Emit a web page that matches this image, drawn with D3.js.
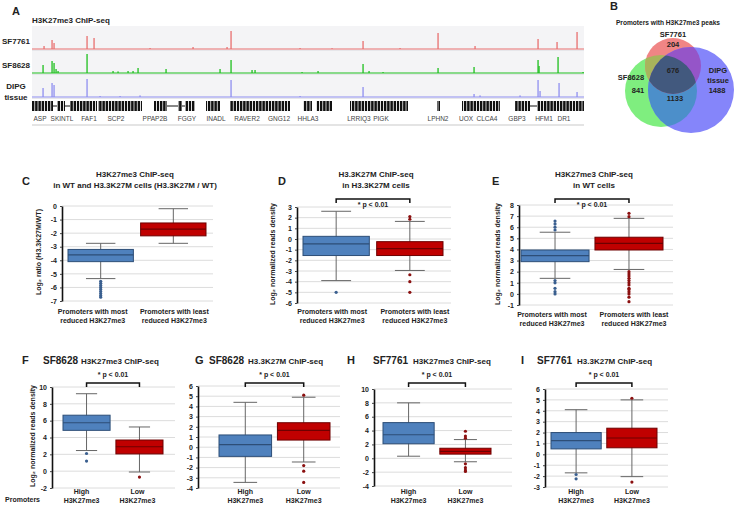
<!DOCTYPE html>
<html><head><meta charset="utf-8">
<script src="https://cdn.jsdelivr.net/npm/d3@7"></script>
<style>
body{margin:0;background:#fff}
svg{display:block}
text{font-family:"Liberation Sans",Arial,sans-serif;font-weight:bold;fill:#222}
</style>
</head><body>
<svg id="c" width="734" height="508"></svg>
<script>
// ---------------- DATA ----------------
// Panel A: genome browser tracks (position in window bins, signal 0-100)
const trackNames = ["SF7761", "SF8628", "DIPG tissue"];
const peaksSF7761 = [[12,15],[20,45],[22,30],[55,65],[62,55],[118,5],[161,10],[195,10],[199,90],[268,5],[300,4],[331,40],[368,5],[406,80],[443,15],[506,50],[525,35],[545,85]];
const peaksSF8628 = [[11,40],[20,60],[22,50],[24,20],[26,10],[55,95],[81,10],[86,8],[96,10],[101,10],[106,25],[134,20],[188,20],[199,65],[220,15],[223,15],[270,5],[286,10],[331,45],[337,10],[351,5],[406,25],[442,30],[506,65],[507,35],[526,80],[551,5]];
const peaksDIPG = [[11,45],[20,70],[22,60],[55,90],[68,5],[88,5],[108,8],[199,85],[268,5],[331,50],[442,15],[448,8],[488,8],[506,85],[508,30],[527,70],[545,25]];
const geneBlocks = [[0,21],[25,33],[38,48],[48,65],[66,110],[122,135],[146,150],[153,163],[174,188],[198,258],[271,280],[284,300],[318,376],[405,408],[430,468],[483,498],[505,552]];
const geneIntrons = [[21,25],[33,38],[135,146],[150,153],[498,505]];
const geneNames = ["ASP","SKINTL","FAF1","SCP2","PPAP2B","FGGY","INADL","RAVER2","GNG12","HHLA3","LRRIQ3","PIGK","LPHN2","UOX","CLCA4","GBP3","HFM1","DR1"];
const genePos = [8,30,57,84,123,155,184,215,247,276,327,349,406,434,455,485,512,532];

// Panel B: Venn counts
const vennSets = ["SF7761","SF8628","DIPG tissue"];
const vennCounts = {onlySF7761:204, onlySF8628:841, onlyDIPG:1488, all:676, SF8628_DIPG:1133};

// Box plots: [whiskerLow, q1, median, q3, whiskerHigh]
const catsMostLeast = ["Promoters with most|reduced H3K27me3", "Promoters with least|reduced H3K27me3"];
const catsHighLow = ["High|H3K27me3", "Low|H3K27me3"];

const C_stats = [[-5.35,-4.1,-3.6,-3.2,-2.75],[-2.75,-2.2,-1.7,-1.25,-0.2]];
const C_out = [[-5.55,-5.7,-5.85,-6.0,-6.15,-6.3,-6.45,-6.6,-6.72],[]];
const D_stats = [[-3.9,-1.55,-0.45,0.25,2.6],[-2.95,-1.55,-0.9,-0.25,1.65]];
const D_out = [[-5.0],[2.1,1.85,-3.35,-4.0,-5.0]];
const E_stats = [[1.4,2.9,3.45,3.95,5.55],[2.2,3.95,4.55,5.1,6.8]];
const E_out = [[5.75,6.0,6.3,6.55,1.2,1.0,0.5,0.2,0.0],[7.25,6.95,2.0,1.8,1.6,1.4,1.2,1.0,0.8,0.5,0.4,0.2,0.0,-0.3,-0.7]];
const F_stats = [[2.45,4.85,5.75,6.65,9.2],[-0.1,2.05,2.9,3.7,5.25]];
const F_out = [[2.1,1.2],[-0.7]];
const G_stats = [[-3.45,-0.9,0.25,1.2,4.4],[-1.45,0.7,1.65,2.4,4.9]];
const G_out = [[],[5.1,-1.8,-2.35,-3.45]];
const H_stats = [[0.3,2.1,3.4,5.15,8.0],[-0.5,0.6,1.0,1.45,2.7]];
const H_out = [[],[3.9,3.2,2.9,-0.8,-1.35,-1.7,-1.9]];
const I_stats = [[-1.7,0.5,1.25,2.0,4.1],[-2.05,0.6,1.5,2.4,5.0]];
const I_out = [[-1.85,-2.25],[5.15,-2.55]];

const C_ticks = [0,-1,-2,-3,-4,-5,-6,-7];
const D_ticks = [3,2,1,0,-1,-2,-3,-4,-5,-6];
const E_ticks = [8,7,6,5,4,3,2,1,0,-1];
const F_ticks = [10,8,6,4,2,0,-2];
const G_ticks = [6,5,4,3,2,1,0,-1,-2,-3,-4];
const H_ticks = [10,8,6,4,2,0,-2,-4];
const I_ticks = [6,5,4,3,2,1,0,-1,-2,-3];

// ---------------- DRAW ----------------
const svg = d3.select("#c");
function txt(x,y,s,size,anchor,extra){
  const t = svg.append("text").attr("x",x).attr("y",y).attr("font-size",size).attr("text-anchor",anchor||"start").text(s);
  if(extra) extra(t);
  return t;
}

// ---- Panel A ----
txt(12,15,"A",11);
txt(32,23,"H3K27me3 ChIP-seq",8);
const xA = d3.scaleLinear().domain([0,552]).range([32,584]);
const trackBase = [49,73,97];
const trackCol = ["#e86f6f","#1fbf1f","#8f8ff0"];
const trackPeaks = [peaksSF7761, peaksSF8628, peaksDIPG];
const yT = d3.scaleLinear().domain([0,100]).range([0,20]);
svg.append("rect").attr("x",xA(0)).attr("y",26).attr("width",xA(552)-xA(0)).attr("height",73).attr("fill","#f4f4f6");
trackNames.forEach((n,i)=>{
  const b = trackBase[i];
  svg.append("line").attr("x1",xA(0)).attr("x2",xA(552)).attr("y1",b+1.5).attr("y2",b+1.5).attr("stroke","#e6e6ea").attr("stroke-width",1);
  svg.append("line").attr("x1",xA(0)).attr("x2",xA(552)).attr("y1",b).attr("y2",b).attr("stroke",trackCol[i]).attr("stroke-width",1);
  svg.selectAll(null).data(trackPeaks[i]).enter().append("rect")
    .attr("x",d=>xA(d[0])-0.6).attr("width",1.3)
    .attr("y",d=>b-yT(d[1])).attr("height",d=>yT(d[1]))
    .attr("fill",trackCol[i]);
});
txt(2,44,"SF7761",8);
txt(2,68,"SF8628",8);
txt(16,89,"DIPG",8,"middle");
txt(16,100,"tissue",8,"middle");
// gene track
const defs = svg.append("defs");
const pat = defs.append("pattern").attr("id","exon").attr("patternUnits","userSpaceOnUse").attr("width",3.2).attr("height",10);
pat.append("rect").attr("width",2.4).attr("height",10).attr("fill","#111");
svg.selectAll(null).data(geneIntrons).enter().append("line")
  .attr("x1",d=>xA(d[0])).attr("x2",d=>xA(d[1])).attr("y1",106).attr("y2",106).attr("stroke","#111").attr("stroke-width",1);
svg.selectAll(null).data(geneBlocks).enter().append("rect")
  .attr("x",d=>xA(d[0])).attr("width",d=>xA(d[1])-xA(d[0])).attr("y",101).attr("height",10).attr("fill","url(#exon)");
svg.selectAll(null).data(geneNames).enter().append("text")
  .attr("x",(d,i)=>xA(genePos[i])).attr("y",121).attr("font-size",6.5).attr("text-anchor","middle")
  .style("font-weight","normal").style("fill","#444").text(d=>d);
svg.append("line").attr("x1",xA(0)).attr("x2",xA(552)).attr("y1",125).attr("y2",125).attr("stroke","#e4e4e4").attr("stroke-width",2);

// ---- Panel B: Venn ----
txt(610,10,"B",11);
txt(668,25,"Promoters with H3K27me3 peaks",6.6,"middle");
const circ = [{id:"r",cx:673,cy:66,r:28},{id:"g",cx:661,cy:91,r:36},{id:"b",cx:691,cy:90,r:43}];
circ.forEach(c=>{
  defs.append("clipPath").attr("id","clip_"+c.id).append("circle").attr("cx",c.cx).attr("cy",c.cy).attr("r",c.r);
});
const cmap = {r:"#f08585", g:"#7fee7f", b:"#8585fa"};
function circle(c,fill,parent){ return (parent||svg).append("circle").attr("cx",c.cx).attr("cy",c.cy).attr("r",c.r).attr("fill",fill); }
circle(circ[1],cmap.g); circle(circ[0],cmap.r); circle(circ[2],cmap.b);
circle(circ[1],"#4c8fca").attr("clip-path","url(#clip_b)");
circle(circ[0],"#a8b45c").attr("clip-path","url(#clip_g)");
circle(circ[0],"#9555c8").attr("clip-path","url(#clip_b)");
circle(circ[0],"#42597e",svg.append("g").attr("clip-path","url(#clip_b)")).attr("clip-path","url(#clip_g)");
txt(673,37,vennSets[0],7.5,"middle");
txt(673,47,vennCounts.onlySF7761,7.5,"middle");
txt(673,73,vennCounts.all,7.5,"middle");
txt(631,80,vennSets[1],7.5,"middle");
txt(638,93,vennCounts.onlySF8628,7.5,"middle");
txt(675,101,vennCounts.SF8628_DIPG,7.5,"middle");
txt(718,73,"DIPG",7.5,"middle");
txt(718,83,"tissue",7.5,"middle");
txt(717,93,vennCounts.onlyDIPG,7.5,"middle");

// ---- Box plots ----
const boxFill = ["#4f81bd","#c00000"];
const boxStroke = ["#2d4e77","#6e0000"];
const dotFill = ["#3a5f8f","#8b1010"];
function boxPanel(cfg, stats, outl, cats, ticks){
  const g = svg.append("g");
  const y = d3.scaleLinear().domain(cfg.domain).range(cfg.yRange);
  const x = d3.scaleBand().domain(cats).range(cfg.band).paddingInner(cfg.pad).paddingOuter(0);
  g.selectAll(".grid").data(ticks).enter().append("line")
    .attr("x1",cfg.axisX).attr("x2",cfg.gridEnd).attr("y1",d=>y(d)).attr("y2",d=>y(d))
    .attr("stroke","#dcdcdc").attr("stroke-width",1);
  const ax = g.append("g").attr("transform",`translate(${cfg.axisX},0)`)
    .call(d3.axisLeft(y).tickValues(ticks).tickSize(2).tickSizeOuter(0).tickFormat(d=>String(d)));
  ax.select(".domain").attr("stroke","#111").attr("stroke-width",1.6);
  ax.selectAll(".tick line").attr("stroke","#444");
  ax.selectAll("text").attr("font-size",7).attr("font-family",null).attr("x",-5).style("fill","#222");
  ax.attr("font-family",null);
  const bw = x.bandwidth();
  stats.forEach((s,i)=>{
    const cx = x(cats[i]) + bw/2;
    const capW = bw*0.45;
    g.append("line").attr("x1",cx).attr("x2",cx).attr("y1",y(s[0])).attr("y2",y(s[4])).attr("stroke","#666").attr("stroke-width",1);
    [s[0],s[4]].forEach(v=>g.append("line").attr("x1",cx-capW/2).attr("x2",cx+capW/2).attr("y1",y(v)).attr("y2",y(v)).attr("stroke","#666").attr("stroke-width",1));
    g.append("rect").attr("x",x(cats[i])).attr("width",bw).attr("y",y(s[3])).attr("height",y(s[1])-y(s[3]))
      .attr("fill",boxFill[i]).attr("stroke",boxStroke[i]).attr("stroke-width",1);
    g.append("line").attr("x1",x(cats[i])).attr("x2",x(cats[i])+bw).attr("y1",y(s[2])).attr("y2",y(s[2])).attr("stroke",boxStroke[i]).attr("stroke-width",1.2);
    g.selectAll(null).data(outl[i]).enter().append("circle").attr("cx",cx).attr("cy",d=>y(d)).attr("r",1.6).attr("fill",dotFill[i]);
    const lines = cats[i].split("|");
    lines.forEach((l,k)=>txt(cx + (cfg.labShift?cfg.labShift[i]:0), cfg.labY + k*9, l, 7, "middle"));
  });
  if(cfg.bracketY!=null){
    const c0 = x(cats[0])+bw/2, c1 = x(cats[1])+bw/2, by = cfg.bracketY;
    g.append("path").attr("d",`M${c0},${by+4}V${by}H${c1}V${by+4}`).attr("fill","none").attr("stroke","#111").attr("stroke-width",1.5);
    txt((c0+c1)/2, cfg.pY, "* p < 0.01", 7, "middle");
  }
  return {x,y};
}

// C
txt(22,185,"C",11);
txt(135,177,"H3K27me3 ChIP-seq",8,"middle");
txt(135,188,"in WT and H3.3K27M cells (H3.3K27M / WT)",8,"middle");
boxPanel({domain:[-7,0],yRange:[301,206],axisX:62,gridEnd:213,band:[68,206],pad:0.1,labY:314,labShift:[-8,1]}, C_stats, C_out, catsMostLeast, C_ticks);
txt(0,0,"Log₂ ratio (H3.3K27M/WT)",7,"middle",t=>t.attr("transform","translate(41,252) rotate(-90)"));

// D
txt(278,185,"D",11);
txt(376,177,"H3.3K27M ChIP-seq",8,"middle");
txt(376,188,"in H3.3K27M cells",8,"middle");
boxPanel({domain:[-6,3],yRange:[303,207],axisX:297,gridEnd:451,band:[303,443],pad:0.1,labY:314,bracketY:199,pY:207,labShift:[-4,5]}, D_stats, D_out, catsMostLeast, D_ticks);
txt(0,0,"Log₂ normalized reads density",7,"middle",t=>t.attr("transform","translate(275,254) rotate(-90)"));

// E
txt(492,185,"E",11);
txt(594,177,"H3K27me3 ChIP-seq",8,"middle");
txt(594,188,"in WT cells",8,"middle");
boxPanel({domain:[-1,8],yRange:[305,205],axisX:519,gridEnd:673,band:[521,663],pad:0.08,labY:317,bracketY:199,pY:207,labShift:[-3,5]}, E_stats, E_out, catsMostLeast, E_ticks);
txt(0,0,"Log₂ normalized reads density",7,"middle",t=>t.attr("transform","translate(500,254) rotate(-90)"));

// Row 3 headers
function header(x,letter,xs,cell,xt,title){
  txt(x,364,letter,11);
  txt(xs,364,cell,10);
  txt(xt,364,title,8);
}
header(22,"F",43,"SF8628",81,"H3K27me3 ChIP-seq");
header(195,"G",209,"SF8628",248,"H3.3K27M ChIP-seq");
header(347,"H",373,"SF7761",413,"H3K27me3 ChIP-seq");
header(521,"I",537,"SF7761",577,"H3.3K27M ChIP-seq");

// F
boxPanel({domain:[-2,10],yRange:[488,387],axisX:52,gridEnd:175,band:[63,163],pad:0.11,labY:494,bracketY:383,pY:377,labShift:[-5,-2]}, F_stats, F_out, catsHighLow, F_ticks);
txt(0,0,"Log₂ normalized reads density",7,"middle",t=>t.attr("transform","translate(35,436) rotate(-90)"));
txt(5,502,"Promoters",7);
// G
boxPanel({domain:[-4,6],yRange:[488,386],axisX:198,gridEnd:340,band:[219,330],pad:0.1,labY:494,bracketY:383,pY:377}, G_stats, G_out, catsHighLow, G_ticks);
// H
boxPanel({domain:[-4,10],yRange:[486,389],axisX:374,gridEnd:512,band:[383,491],pad:0.1,labY:494,bracketY:383,pY:377}, H_stats, H_out, catsHighLow, H_ticks);
// I
boxPanel({domain:[-3,6],yRange:[487,389],axisX:545,gridEnd:668,band:[551,657],pad:0.1,labY:494,bracketY:383,pY:377}, I_stats, I_out, catsHighLow, I_ticks);
</script>
</body></html>
